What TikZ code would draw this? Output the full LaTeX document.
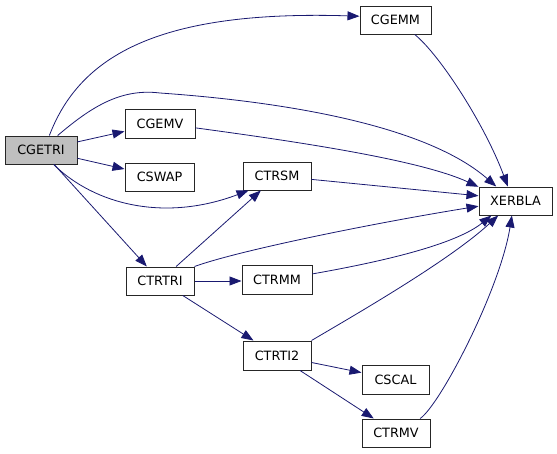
\documentclass[tikz,border=0pt]{standalone}
\usepackage{fontspec}
\setmainfont{DejaVu Sans}
\usetikzlibrary{arrows.meta}
\definecolor{edgeblue}{HTML}{191970}
\definecolor{rootgray}{HTML}{BFBFBF}
\tikzset{
  fn/.style={draw=black!85, line width=1pt, fill=white, rectangle, inner sep=0pt,
    font=\fontsize{12.8}{15}\selectfont, text=black},
  root/.style={fn, fill=rootgray},
  call/.style={draw=edgeblue, line width=0.8pt, -{Triangle[length=12pt,width=9pt]}},
}
\begin{document}
\begin{tikzpicture}[x=1pt,y=-1pt]
\useasboundingbox (0,0) rectangle (557,453);
\node[root, minimum width=72pt, minimum height=28pt] (cgetri) at (41,150) {CGETRI};
\node[fn, minimum width=70pt, minimum height=29pt] (cgemv) at (160,123.5) {CGEMV};
\node[fn, minimum width=69pt, minimum height=28pt] (cswap) at (159.5,177) {CSWAP};
\node[fn, minimum width=68pt, minimum height=28pt] (ctrsm) at (277,176) {CTRSM};
\node[fn, minimum width=71pt, minimum height=28pt] (cgemm) at (395.5,20) {CGEMM};
\node[fn, minimum width=73pt, minimum height=28pt] (xerbla) at (515.5,201) {XERBLA};
\node[fn, minimum width=68pt, minimum height=28pt] (ctrtri) at (160,281) {CTRTRI};
\node[fn, minimum width=70pt, minimum height=29pt] (ctrmm) at (277,279.5) {CTRMM};
\node[fn, minimum width=68pt, minimum height=29pt] (ctrti2) at (277,355.5) {CTRTI2};
\node[fn, minimum width=67pt, minimum height=29pt] (cscal) at (395.5,379.5) {CSCAL};
\node[fn, minimum width=68pt, minimum height=28pt] (ctrmv) at (396,433) {CTRMV};

% CGETRI calls
\draw[call] (cgetri.60) .. controls (80,55) and (160,10) .. (cgemm.174);
\draw[call] (cgetri.41) .. controls (90,108) and (120,88) .. (160,93)
  .. controls (260,100) and (420,120) .. (xerbla.143);
\draw[call] (cgetri) -- (cgemv);
\draw[call] (cgetri) -- (cswap);
\draw[call] (cgetri.-49) .. controls (95,205) and (165,222) .. (ctrsm.207);
\draw[call] (cgetri) -- (ctrtri);

% to XERBLA
\draw[call] (cgemm.-37) .. controls (440,55) and (485,125) .. (xerbla.118);
\draw[call] (cgemv.-7) .. controls (300,142) and (420,160) .. (xerbla.159);
\draw[call] (ctrsm) -- (xerbla.172);
\draw[call] (ctrtri.north east) .. controls (240,250) and (380,222) .. (xerbla.188);
\draw[call] (ctrmm.9) .. controls (380,262) and (455,245) .. (xerbla.211);
\draw[call] (ctrti2.north east) .. controls (360,312) and (450,260) .. (xerbla.220);
\draw[call] (ctrmv.31) .. controls (440,405) and (500,290) .. (xerbla.256);

% CTRTRI calls
\draw[call] (ctrtri) -- (ctrsm);
\draw[call] (ctrtri.east) -- (ctrtri.east -| ctrmm.west);
\draw[call] (ctrtri) -- (ctrti2);

% CTRTI2 calls
\draw[call] (ctrti2) -- (cscal);
\draw[call] (ctrti2) -- (ctrmv);
\end{tikzpicture}
\end{document}
